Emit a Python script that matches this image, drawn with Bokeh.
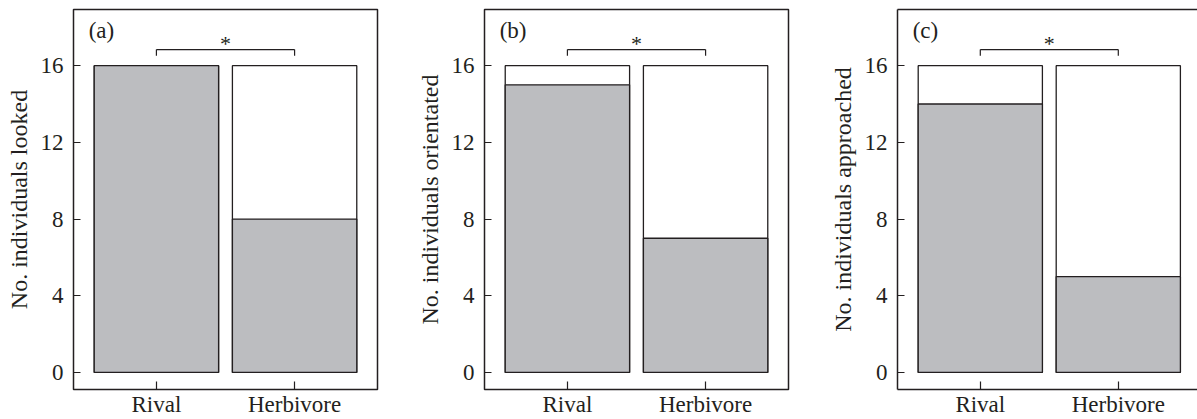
from bokeh.plotting import figure
from bokeh.layouts import row
from bokeh.models import Range1d, FixedTicker, LinearAxis
from bokeh.embed import file_html
from bokeh.resources import INLINE
from bokeh.core.properties import value

# ---- data ----
categories = ["Rival", "Herbivore"]
total = [16, 16]
looked = [16, 8]
orientated = [15, 7]
approached = [14, 5]
y_ticks = [0, 4, 8, 12, 16]
panel_labels = ["(a)", "(b)", "(c)"]
y_titles = ["No. individuals looked", "No. individuals orientated", "No. individuals approached"]
significance = ["*", "*", "*"]

INK = "#231f20"
GRAY = "#bcbdc0"
FONT = "Liberation Serif"


def make_panel(vals, label, ytitle, sig, width, border_right, x_end, open_right=False):
    xs = [i + 1 for i in range(len(categories))]
    p = figure(width=width, height=419, output_backend="svg", toolbar_location=None,
               x_range=Range1d(0.4, x_end), y_range=Range1d(-0.89, 18.93),
               min_border_left=73, min_border_right=border_right,
               min_border_top=9, min_border_bottom=0)
    p.xgrid.visible = False
    p.ygrid.visible = False
    p.background_fill_color = "white"
    p.border_fill_color = "white"

    # bars: white total and gray part
    p.vbar(x=xs, bottom=0, top=total, width=0.9, fill_color="white",
           line_color=INK, line_width=1.3)
    p.vbar(x=xs, bottom=0, top=vals, width=0.9, fill_color=GRAY,
           line_color=INK, line_width=1.3)

    # significance bracket
    ytop = max(total) + 0.84
    ydrop = max(total) + 0.52
    p.segment(x0=[xs[0], xs[0], xs[1]], y0=[ytop, ytop, ytop],
              x1=[xs[1], xs[0], xs[1]], y1=[ytop, ydrop, ydrop],
              line_color=INK, line_width=1.2)
    p.text(x=[(xs[0] + xs[1]) / 2], y=[ytop + 0.3], text=[sig],
           text_font=value(FONT), text_font_size="22px", text_color=INK,
           text_align="center", text_baseline="alphabetic")

    # panel letter
    p.text(x=[0.51], y=[17.83], text=[label], text_font=value(FONT),
           text_font_size="23px", text_color=INK, text_align="left",
           text_baseline="alphabetic")

    # axes
    xa = p.xaxis[0]
    xa.ticker = FixedTicker(ticks=xs)
    xa.major_label_overrides = {x: c for x, c in zip(xs, categories)}
    xa.major_tick_in = 8
    xa.major_tick_out = 0
    xa.minor_tick_line_color = None
    xa.major_tick_line_color = INK
    xa.major_tick_line_width = 1.2
    xa.major_label_text_font = FONT
    xa.major_label_text_font_size = "23px"
    xa.major_label_text_color = INK
    xa.major_label_standoff = 2

    ya = p.yaxis[0]
    ya.ticker = FixedTicker(ticks=y_ticks)
    ya.major_tick_in = 7
    ya.major_tick_out = 0
    ya.minor_tick_line_color = None
    ya.major_tick_line_color = INK
    ya.major_tick_line_width = 1.2
    ya.major_label_text_font = FONT
    ya.major_label_text_font_size = "23px"
    ya.major_label_text_color = INK
    ya.major_label_standoff = 10
    ya.axis_label = ytitle
    ya.axis_label_text_font = FONT
    ya.axis_label_text_font_size = "24px"
    ya.axis_label_text_font_style = "normal"
    ya.axis_label_text_color = INK
    ya.axis_label_standoff = 6

    if open_right:
        p.outline_line_color = None
        xa.axis_line_color = INK
        xa.axis_line_width = 1.5
        ya.axis_line_color = INK
        ya.axis_line_width = 1.5
        top = LinearAxis(ticker=FixedTicker(ticks=[]), axis_line_color=INK,
                         axis_line_width=1.5, major_tick_line_color=None,
                         minor_tick_line_color=None, major_label_standoff=0,
                         major_tick_out=0, major_tick_in=0)
        p.add_layout(top, "above")
    else:
        p.outline_line_color = INK
        p.outline_line_width = 1.5
        xa.axis_line_color = None
        ya.axis_line_color = None
    return p


pa = make_panel(looked, panel_labels[0], y_titles[0], significance[0], 411, 34, 2.6)
pb = make_panel(orientated, panel_labels[1], y_titles[1], significance[1], 413, 36, 2.6)
pc = make_panel(approached, panel_labels[2], y_titles[2], significance[2], 373, 0,
                0.4 + 300 / 138, open_right=True)

layout = row(pa, pb, pc)
open("out.html", "w").write(file_html(layout, INLINE))
